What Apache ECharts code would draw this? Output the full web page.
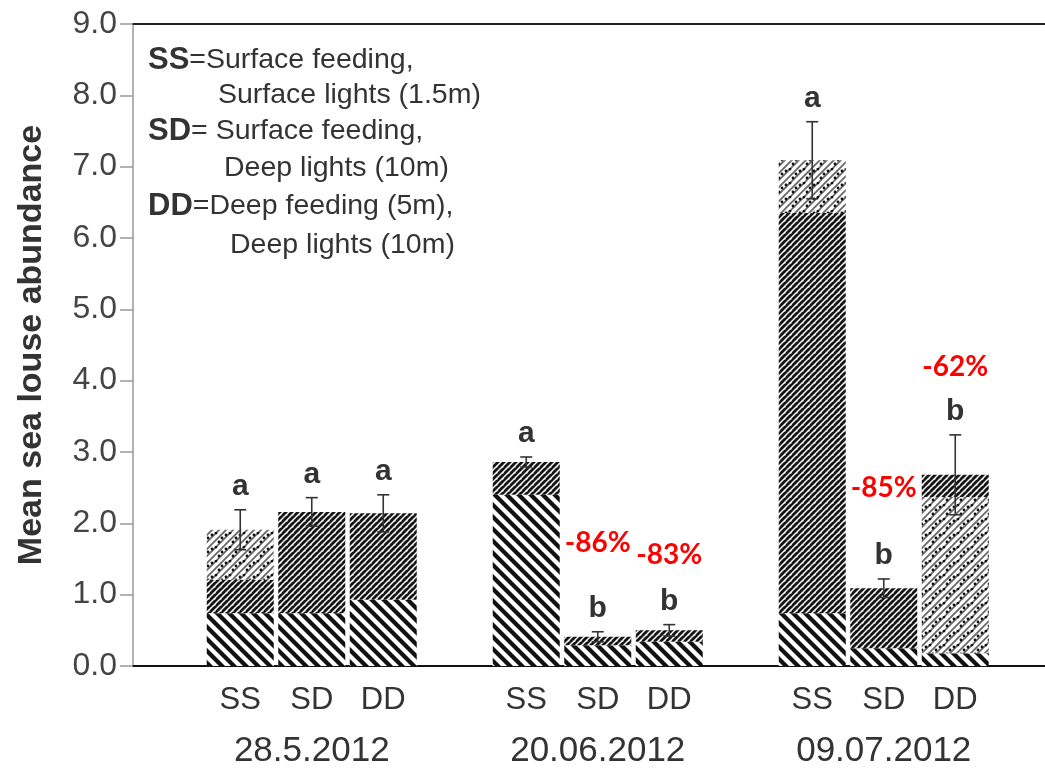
<!DOCTYPE html>
<html>
<head>
<meta charset="utf-8">
<script src="https://cdn.jsdelivr.net/npm/echarts@6/dist/echarts.min.js"></script>
<style>html,body{margin:0;padding:0;background:#fff}#c{width:1045px;height:770px}</style>
</head>
<body>
<div id="c"></div>
<script>
// ---- data ----
const dates = ['28.5.2012', '20.06.2012', '09.07.2012'];
const treatments = ['SS', 'SD', 'DD'];
// stacked segments (per bar, order: date1 SS,SD,DD, date2 ..., date3 ...)
const segStripes = [0.74, 0.74, 0.93, 2.40, 0.29, 0.34, 0.74, 0.25, 0.18];
const segDark    = [0.47, 1.42, 1.21, 0.46, 0.12, 0.16, 5.61, 0.84, 0.00];
const segLight   = [0.70, 0.00, 0.00, 0.00, 0.00, 0.00, 0.74, 0.00, 2.19];
const segDarkTop = [0.00, 0.00, 0.00, 0.00, 0.00, 0.00, 0.00, 0.00, 0.31];
const stdErr     = [0.28, 0.20, 0.26, 0.07, 0.07, 0.08, 0.54, 0.13, 0.56];
const letters    = ['a', 'a', 'a', 'a', 'b', 'b', 'a', 'b', 'b'];
const pctText    = ['', '', '', '', '-86%', '-83%', '', '-85%', '-62%'];
const pctY       = [0, 0, 0, 0, 1.72, 1.56, 0, 2.50, 4.19];
const yTicks     = [0, 1, 2, 3, 4, 5, 6, 7, 8, 9];
const legendLines = [
  ['SS', '=Surface feeding,'],
  ['', 'Surface lights (1.5m)'],
  ['SD', '= Surface feeding,'],
  ['', 'Deep lights (10m)'],
  ['DD', '=Deep feeding (5m),'],
  ['', 'Deep lights (10m)']
];

// ---- build category slots (blank slot before each group) ----
const cats = [];
const barSlot = [];
dates.forEach((d, gi) => {
  cats.push('');
  treatments.forEach((t, ti) => { barSlot.push(cats.length); cats.push(t); });
});
function toSlots(arr) {
  const out = cats.map(() => '-');
  arr.forEach((v, i) => { out[barSlot[i]] = v; });
  return out;
}
const totals = segStripes.map((v, i) => v + segDark[i] + segLight[i] + segDarkTop[i]);

// ---- patterns ----
function mk(w, h, draw) {
  const c = document.createElement('canvas'); c.width = w; c.height = h;
  const x = c.getContext('2d'); x.fillStyle = '#fff'; x.fillRect(0, 0, w, h); draw(x, w, h); return c;
}
const patStripes = mk(12, 12, (x, w, h) => {
  x.strokeStyle = '#111'; x.lineWidth = 4.2;
  [-12, 0, 12].forEach(x0 => { x.beginPath(); x.moveTo(x0 - 2, -2); x.lineTo(x0 + 14, 14); x.stroke(); });
});
const patDark = mk(6, 6, (x, w, h) => {
  x.strokeStyle = '#151515'; x.lineWidth = 2.8;
  [-6, 0, 6].forEach(x0 => { x.beginPath(); x.moveTo(x0 - 1, 7); x.lineTo(x0 + 7, -1); x.stroke(); });
  x.fillStyle = '#fff'; x.fillRect(4, 4, 1.5, 1.5);
});
const patLight = mk(14, 14, (x, w, h) => {
  x.strokeStyle = '#666'; x.lineWidth = 1.7;
  [-14, -7, 0, 7, 14].forEach(x0 => { x.beginPath(); x.moveTo(x0 - 1, 15); x.lineTo(x0 + 15, -1); x.stroke(); });
  x.fillStyle = '#111';
  [[2, 3], [9, 10], [6, 1], [12, 6]].forEach(p => { x.beginPath(); x.arc(p[0], p[1], 1.4, 0, Math.PI * 2); x.fill(); });
});

const FONT = 'Liberation Sans, Arial, sans-serif';
const chart = echarts.init(document.getElementById('c'));

function barSeries(name, arr, pat) {
  return {
    type: 'bar', name, stack: 'tot', barWidth: 67, data: toSlots(arr),
    itemStyle: { color: { image: pat, repeat: 'repeat' } }, silent: true
  };
}

const errData = totals.map((m, i) => [barSlot[i], m, m - stdErr[i], m + stdErr[i], letters[i]]);
const pctData = pctText.map((t, i) => [barSlot[i], pctY[i], t]).filter(d => d[2] !== '');

const legendX = [148, 218, 148, 224, 148, 230];
const legendY = [60, 95, 131, 168, 206, 245];
const legendGraphics = legendLines.map((l, i) => ({
  type: 'text', x: legendX[i], y: legendY[i],
  style: {
    text: (l[0] ? '{b|' + l[0] + '}' : '') + '{r|' + l[1] + '}',
    verticalAlign: 'middle',
    rich: {
      b: { fontSize: 31, fontWeight: 'bold', fill: '#333', fontFamily: FONT },
      r: { fontSize: 28.5, fill: '#333', fontFamily: FONT }
    }
  }
}));

chart.setOption({
  animation: false,
  grid: [
    { left: 133, right: 54, top: 24, bottom: 104 },
    { left: 991, right: 0, top: 24, bottom: 104 }
  ],
  xAxis: [
    {
      type: 'category', data: cats, gridIndex: 0, position: 'bottom',
      axisLine: { lineStyle: { color: '#111', width: 2 } },
      axisTick: { show: false },
      axisLabel: {
        interval: 0, margin: 14, color: '#333', fontFamily: FONT,
        formatter: (v, i) => {
          if (!v) return '';
          if (v === 'SD') {
            const gi = Math.floor(i / 4);
            return '{t|' + v + '}\n{d|' + dates[gi] + '}';
          }
          return '{t|' + v + '}';
        },
        rich: {
          t: { fontSize: 31, lineHeight: 40, color: '#333', fontFamily: FONT },
          d: { fontSize: 35, lineHeight: 62, color: '#333', fontFamily: FONT }
        }
      }
    },
    {
      type: 'category', data: cats, gridIndex: 0, position: 'top',
      axisLine: { lineStyle: { color: '#222', width: 2 } }, axisTick: { show: false }, axisLabel: { show: false }
    },
    {
      type: 'value', gridIndex: 1, position: 'bottom', min: 0, max: 1,
      axisLine: { lineStyle: { color: '#111', width: 2 } }, axisTick: { show: false }, axisLabel: { show: false }, splitLine: { show: false }
    },
    {
      type: 'value', gridIndex: 1, position: 'top', min: 0, max: 1,
      axisLine: { lineStyle: { color: '#222', width: 2 } }, axisTick: { show: false }, axisLabel: { show: false }, splitLine: { show: false }
    }
  ],
  yAxis: [
    {
      type: 'value', gridIndex: 0, min: yTicks[0], max: yTicks[yTicks.length - 1], interval: 1,
      name: 'Mean sea louse abundance', nameLocation: 'middle', nameGap: 84,
      nameTextStyle: { fontSize: 34, fontWeight: 'bold', color: '#333', fontFamily: FONT },
      axisLine: { show: true, lineStyle: { color: '#999', width: 1.5 } },
      axisTick: { show: true, length: 13, lineStyle: { color: '#999', width: 1.5 } },
      axisLabel: { margin: 16, fontSize: 32, color: '#444', fontFamily: FONT, formatter: v => v.toFixed(1) },
      splitLine: { show: false }
    },
    { type: 'value', gridIndex: 1, show: false, min: 0, max: 1 }
  ],
  series: [
    barSeries('stage1', segStripes, patStripes),
    barSeries('stage2', segDark, patDark),
    barSeries('stage3', segLight, patLight),
    barSeries('stage4', segDarkTop, patDark),
    {
      type: 'custom', name: 'err', data: errData, z: 10,
      renderItem: (params, api) => {
        const hi = api.coord([api.value(0), api.value(3)]);
        const lo = api.coord([api.value(0), api.value(2)]);
        const cap = 6;
        const st = { stroke: '#333', lineWidth: 1.6 };
        return {
          type: 'group', children: [
            { type: 'line', shape: { x1: hi[0], y1: hi[1], x2: lo[0], y2: lo[1] }, style: st },
            { type: 'line', shape: { x1: hi[0] - cap, y1: hi[1], x2: hi[0] + cap, y2: hi[1] }, style: st },
            { type: 'line', shape: { x1: lo[0] - cap, y1: lo[1], x2: lo[0] + cap, y2: lo[1] }, style: st },
            { type: 'text', x: hi[0], y: hi[1] - 8,
              style: { text: errData[params.dataIndex][4], fontSize: 30, fontWeight: 'bold', fill: '#333',
                       fontFamily: FONT, align: 'center', verticalAlign: 'bottom' } }
          ]
        };
      }
    },
    {
      type: 'custom', name: 'pct', data: pctData, z: 11,
      renderItem: (params, api) => {
        const p = api.coord([api.value(0), api.value(1)]);
        return { type: 'text', x: p[0], y: p[1],
          style: { text: pctData[params.dataIndex][2], fontSize: 28, fontWeight: 'bold', fill: '#ff0000',
                   fontFamily: 'Lato, Open Sans, sans-serif', align: 'center', verticalAlign: 'middle' } };
      }
    }
  ],
  graphic: legendGraphics
});
</script>
</body>
</html>
